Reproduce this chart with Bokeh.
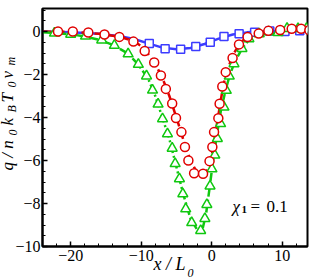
from bokeh.plotting import figure
from bokeh.models import Label, FixedTicker, Title
from bokeh.embed import file_html
from bokeh.resources import INLINE

# ---------------- data ----------------
x_major = [-20, -10, 0, 10]
x_minor = [-24, -22, -18, -16, -14, -12, -8, -6, -4, -2, 2, 4, 6, 8, 12, 14]
y_major = [-10, -8, -6, -4, -2, 0]
y_minor = [-9.5, -9, -8.5, -7.5, -7, -6.5, -5.5, -5, -4.5, -3.5, -3, -2.5,
           -1.5, -1, -0.5, 0.5, 1]

# theory curves
blue_line_x = [-24, -20, -16, -13, -11, -9, -7, -5, -3, -1, 1, 3, 5, 7, 10, 14]
blue_line_y = [0.0, -0.03, -0.1, -0.22, -0.35, -0.55, -0.75, -0.82, -0.77, -0.58,
               -0.33, -0.14, -0.04, 0.0, 0.01, 0.02]

red_line_x = [-24, -20, -16, -13, -11, -10, -9, -8, -7, -6, -5, -4, -3, -2, -1.3,
              -0.5, 0, 0.5, 1, 1.5, 2, 3, 4, 5, 6, 8, 10, 12, 14]
red_line_y = [0.0, -0.02, -0.1, -0.25, -0.45, -0.68, -1.05, -1.5, -2.15, -3.0,
              -4.0, -5.05, -6.0, -6.6, -6.75, -6.4, -5.8, -4.8, -3.8, -2.8, -2.0,
              -1.1, -0.55, -0.25, -0.1, 0.02, 0.08, 0.1, 0.08]

green_line_x = [-24, -22, -20, -18, -16, -14, -12, -10.5, -9, -8, -7, -6, -5, -4,
                -3, -2, -1.3, -0.8, -0.3, 0.2, 0.8, 1.3, 2, 2.6, 3.3, 4.3, 5.3,
                6.7, 8, 10, 12, 14]
green_line_y = [-0.03, -0.07, -0.13, -0.23, -0.38, -0.62, -1.0, -1.5, -2.2, -3.0,
                -4.0, -5.0, -6.3, -7.6, -8.7, -9.25, -9.2, -8.5, -7.3, -6.0, -4.7,
                -3.7, -2.7, -2.0, -1.4, -0.8, -0.38, -0.12, -0.02, 0.08, 0.12, 0.12]

# simulation points
blue_pts_x = [-8.85, -6.6, -4.4, -2.25, -0.2, 1.75, 3.9, 6.1, 8.25, 10.4, 12.5]
blue_pts_y = [-0.56, -0.8, -0.82, -0.7, -0.5, -0.23, -0.11, -0.03, 0.02, 0.0, 0.03]

red_pts_x = [-21.8, -19.7, -17.5, -15.2, -13.1, -11.1, -9.5, -8.15, -7.2, -6.5,
             -5.6, -5.06, -4.29, -3.79, -3.3, -2.49, -1.22, -0.3, 0.1, 0.34, 0.95,
             1.13, 1.51, 2.0, 2.97, 3.88, 5.1, 6.68, 8.05, 9.72, 11.36, 12.7, 13.86]
red_pts_y = [0.0, 0.0, -0.05, -0.14, -0.25, -0.47, -0.91, -1.44, -2.05, -2.67,
             -3.35, -4.02, -4.68, -5.37, -6.0, -6.59, -6.62, -6.03, -5.37, -4.68,
             -4.03, -3.36, -2.56, -1.89, -1.23, -0.6, -0.26, -0.09, 0.03, 0.07,
             0.13, 0.13, 0.06]

green_pts_x = [-22.3, -20.0, -17.9, -15.6, -13.8, -11.85, -10.4, -9.24, -8.39, -7.6,
               -6.97, -6.27, -5.6, -5.18, -4.57, -4.09, -3.68, -2.83, -1.56, -0.96,
               -0.68, -0.23, 0.04, 0.45, 0.81, 1.27, 1.75, 2.08, 2.5, 3.17, 4.3,
               5.29, 6.75, 8.1, 9.43, 10.7, 12.26, 13.47]
green_pts_y = [-0.08, -0.13, -0.22, -0.4, -0.65, -1.04, -1.53, -2.07, -2.73, -3.38,
               -4.06, -4.76, -5.43, -6.15, -6.85, -7.55, -8.25, -8.89, -9.26, -8.7,
               -8.05, -7.19, -6.39, -5.75, -4.98, -4.29, -3.52, -2.74, -2.08, -1.5,
               -0.79, -0.34, -0.11, -0.02, -0.05, 0.14, 0.13, 0.14]

BLUE = "#3c3cff"
RED = "#e00000"
GREEN = "#10c810"
FONT = "Liberation Serif"

p = figure(width=315, height=280, x_range=(-24, 13.6), y_range=(-10, 1.07),
           output_backend="svg", toolbar_location=None,
           min_border_left=42, min_border_right=8, min_border_top=8,
           min_border_bottom=34)
p.xgrid.visible = False
p.ygrid.visible = False
p.outline_line_color = "black"
p.outline_line_width = 2
p.background_fill_color = "white"

p.xaxis.ticker = FixedTicker(ticks=x_major, minor_ticks=x_minor)
p.yaxis.ticker = FixedTicker(ticks=y_major, minor_ticks=y_minor)
for ax in (p.xaxis, p.yaxis):
    ax.axis_line_width = 2
    ax.axis_line_color = "black"
    ax.major_tick_in = 5
    ax.major_tick_out = 0
    ax.minor_tick_in = 3
    ax.minor_tick_out = 0
    ax.major_tick_line_color = "black"
    ax.minor_tick_line_color = "black"
    ax.major_tick_line_width = 1.5
    ax.minor_tick_line_width = 1
    ax.major_label_text_font = FONT
    ax.major_label_text_font_size = "16px"
    ax.major_label_text_color = "black"
p.xaxis.major_label_standoff = 3
p.yaxis.major_label_standoff = 2

# curves
p.line(blue_line_x, blue_line_y, line_color=BLUE, line_width=2.5)
p.line(red_line_x, red_line_y, line_color=RED, line_width=2.5, line_dash="9 4")
p.line(green_line_x, green_line_y, line_color=GREEN, line_width=2.5,
       line_dash="8 3 2 3")

# points
p.scatter(blue_pts_x, blue_pts_y, marker="square", size=8, line_color=BLUE,
          fill_color="white", line_width=1.5)
p.scatter(green_pts_x, green_pts_y, marker="triangle", size=10, line_color=GREEN,
          fill_color="white", line_width=1.5)
p.scatter(red_pts_x, red_pts_y, marker="circle", size=9, line_color=RED,
          fill_color="white", line_width=1.5)


def ttl(text, place, offset, size, standoff, style="italic"):
    p.add_layout(Title(text=text, align="left", offset=offset,
                       vertical_align="middle", standoff=standoff,
                       text_font=FONT, text_font_size=f"{size}px",
                       text_font_style=style, text_color="black"), place)


# y axis label pieces (left panel; thin slots so pieces overlap in place)
ttl("0", "left", 246 - 135, 12, -15)
ttl("B", "left", 246 - 112, 12, -15)
ttl("0", "left", 246 - 87, 12, -15)
ttl("m", "left", 246 - 65, 12, -15)
ttl(" ", "left", 0, 12, -13)           # push the main letters outward a little
ttl("q / n", "left", 246 - 170, 17, -21)
ttl("k", "left", 246 - 125, 17, -21)
ttl("T", "left", 246 - 102, 17, -21)
ttl("v", "left", 246 - 78, 17, -21)

# x axis label pieces (below panel)
ttl("x / L", "below", 153 - 42, 18, -22)
ttl(" ", "below", 0, 12, -7)
ttl("0", "below", 187 - 42, 12, -15)


def lab(text, px, py, size, style="italic"):
    p.add_layout(Label(x=px - 42, y=246 - py, x_units="screen", y_units="screen",
                       text=text, text_font=FONT, text_font_size=f"{size}px",
                       text_font_style=style, text_color="black",
                       text_baseline="alphabetic", text_align="left"))


# annotation inside the frame
lab("χ", 232, 206, 17)
lab("1", 241, 209, 11, style="bold")
lab("=", 250, 206, 17, style="normal")
lab("0.1", 266, 206, 17, style="normal")

open("out.html", "w").write(file_html(p, INLINE))
